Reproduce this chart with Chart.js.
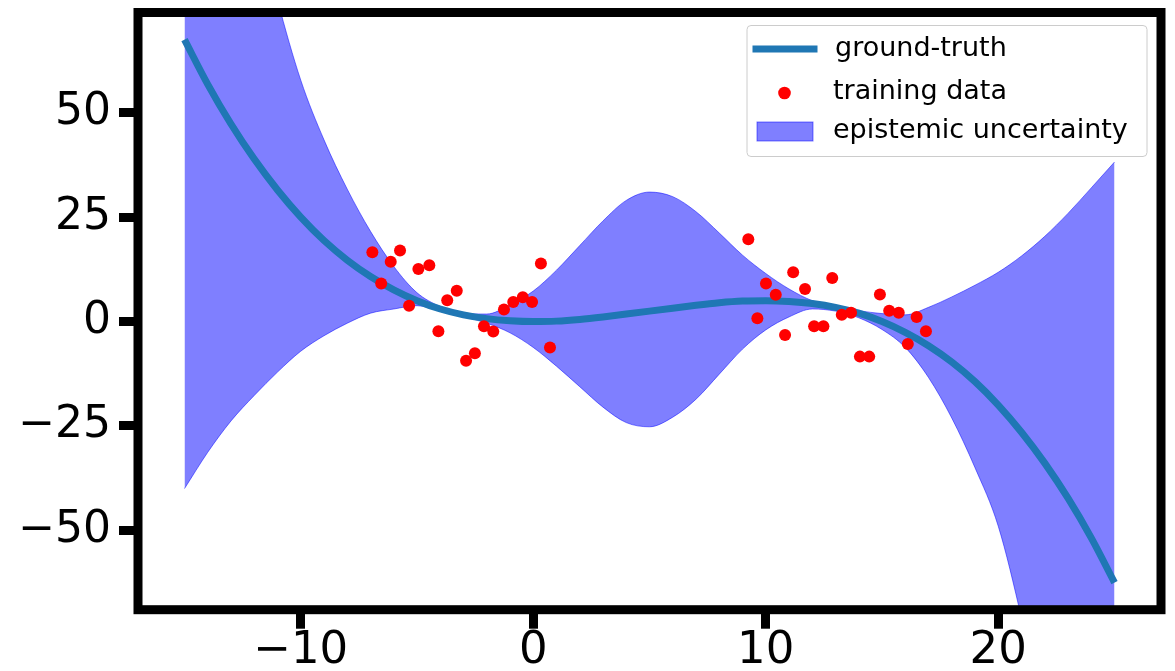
<!DOCTYPE html>
<html lang="en">
<head>
    <meta charset="UTF-8">
    <title>ground-truth / training data / epistemic uncertainty</title>
    <script src="https://cdn.jsdelivr.net/npm/chart.js"></script>
    <style>
        body { margin: 0; background: #fff; }
    </style>
</head>
<body>
    <canvas id="chart" width="1175" height="671"></canvas>
</body>

<script>
// x grid for the curves, every 1 unit
const xGrid = [-15, -14, -13, -12, -11, -10, -9, -8, -7, -6, -5, -4, -3, -2, -1, 0, 1, 2, 3, 4, 5,
               6, 7, 8, 9, 10, 11, 12, 13, 14, 15, 16, 17, 18, 19, 20, 21, 22, 23, 24, 25];

// ground-truth curve
const truthY = [67.5, 56.8, 47.3, 38.9, 31.5, 25.0, 19.4, 14.7, 10.8, 7.6, 5.0, 3.0, 1.6, 0.7, 0.2, 0.0, 0.1, 0.5, 1.1, 1.8, 2.5,
                3.2, 3.9, 4.5, 4.9, 5.0, 4.8, 4.3, 3.4, 2.0, 0.0, -2.6, -5.8, -9.7, -14.4, -20.0, -26.5, -33.9, -42.3, -51.8, -62.5];

// epistemic uncertainty band (upper / lower edge)
const bandUpper = [195, 160, 128, 100, 77, 57.8, 43.5, 31.7, 21.6, 13.2, 6.9, 3.6, 2.0, 1.8, 4.0, 7.3, 12.3, 18.2, 24.1, 29.0, 31.0,
                   29.9, 26.3, 21.2, 15.9, 11.5, 7.8, 5.0, 3.6, 2.6, 1.9, 1.6, 3.4, 5.9, 8.7, 11.8, 15.7, 20.4, 25.9, 32.0, 38.2];
const bandLower = [-40.0, -31.3, -23.8, -17.7, -12.1, -7.1, -3.4, -0.4, 2.0, 3.0, 3.8, 2.5, 1.2, -0.4, -2.7, -6.2, -10.7, -15.6, -20.5, -24.2, -25.2,
                   -22.9, -18.6, -12.6, -6.6, -2.0, 1.1, 3.0, 2.5, 0.9, -1.9, -6.2, -13.4, -23.1, -35.0, -49.0, -71, -97, -127, -160, -197];

// training data
const trainX = [-6.92, -5.73, -6.13, -6.54, -4.94, -4.47, -5.34, -3.29, -3.70, -4.08,
                -2.51, -2.89, -2.12, -1.72, -1.26, -0.86, -0.45, -0.05, 0.33, 0.72,
                9.25, 10.01, 10.43, 9.64, 10.83, 11.18, 11.69, 12.86, 12.08, 12.48,
                13.27, 13.67, 14.91, 14.05, 14.45, 15.31, 15.72, 16.49, 16.89, 16.11];
const trainY = [16.6, 17.0, 14.3, 9.1, 12.6, 13.5, 3.8, 7.4, 5.1, -2.3,
                -7.6, -9.4, -1.1, -2.4, 2.9, 4.7, 5.8, 4.7, 13.9, -6.2,
                19.7, 9.1, 6.4, 0.8, -3.2, 11.8, 7.8, 10.4, -1.1, -1.1,
                1.6, 2.1, 6.5, -8.4, -8.4, 2.6, 2.1, 1.1, -2.3, -5.4];

// axes
const xTicks = [-10, 0, 10, 20];
const yTicks = [-50, -25, 0, 25, 50];
const xRange = [-17, 27];
const yRange = [-69, 74];

const legendLabels = ['ground-truth', 'training data', 'epistemic uncertainty'];

const BLUE = '#1f77b4';
const BAND = 'rgba(0, 0, 255, 0.5)';
const FONT = '"DejaVu Sans", sans-serif';

function toPoints(xs, ys) {
    return xs.map((x, i) => ({x: x, y: ys[i]}));
}

function minus(v) {
    return String(v).replace('-', '\u2212');
}

// thick black box around the plot + matplotlib style legend
const framePlugin = {
    id: 'frame',
    afterDraw(chart) {
        const ctx = chart.ctx;
        const a = chart.chartArea;
        ctx.save();
        ctx.strokeStyle = '#000';
        ctx.lineWidth = 9;
        ctx.lineJoin = 'miter';
        ctx.strokeRect(a.left, a.top, a.right - a.left, a.bottom - a.top);

        // legend box
        ctx.beginPath();
        ctx.roundRect(747, 25.5, 400, 131, 4);
        ctx.fillStyle = 'rgba(255,255,255,0.8)';
        ctx.fill();
        ctx.lineWidth = 1;
        ctx.strokeStyle = '#cccccc';
        ctx.stroke();

        // handles
        ctx.strokeStyle = BLUE;
        ctx.lineWidth = 7;
        ctx.lineCap = 'square';
        ctx.beginPath();
        ctx.moveTo(756, 49);
        ctx.lineTo(814, 49);
        ctx.stroke();

        ctx.fillStyle = 'red';
        ctx.beginPath();
        ctx.arc(784.5, 93, 6.3, 0, Math.PI * 2);
        ctx.fill();

        ctx.fillStyle = BAND;
        ctx.strokeStyle = BAND;
        ctx.lineWidth = 1;
        ctx.lineCap = 'butt';
        ctx.fillRect(757, 122, 56, 19);
        ctx.strokeRect(757, 122, 56, 19);

        // texts
        ctx.fillStyle = '#000';
        ctx.font = '27px ' + FONT;
        ctx.textBaseline = 'alphabetic';
        ctx.textAlign = 'left';
        ctx.fillText(legendLabels[0], 835, 56);
        ctx.fillText(legendLabels[1], 833, 99);
        ctx.fillText(legendLabels[2], 833, 138);
        ctx.restore();
    }
};

const ctx = document.getElementById('chart');
new Chart(ctx, {
    type: 'scatter',
    data: {
        datasets: [
            {
                label: legendLabels[1],
                data: toPoints(trainX, trainY),
                backgroundColor: 'red',
                borderWidth: 0,
                pointRadius: 6,
                order: 1
            },
            {
                type: 'line',
                label: legendLabels[0],
                data: toPoints(xGrid, truthY),
                borderColor: BLUE,
                borderWidth: 7,
                pointRadius: 0,
                fill: false,
                cubicInterpolationMode: 'monotone',
                order: 2
            },
            {
                type: 'line',
                label: legendLabels[2],
                data: toPoints(xGrid, bandUpper),
                borderColor: BAND,
                backgroundColor: BAND,
                borderWidth: 1,
                pointRadius: 0,
                fill: '+1',
                cubicInterpolationMode: 'monotone',
                order: 3
            },
            {
                type: 'line',
                label: 'lower',
                data: toPoints(xGrid, bandLower),
                borderColor: BAND,
                borderWidth: 1,
                pointRadius: 0,
                fill: false,
                cubicInterpolationMode: 'monotone',
                order: 4
            }
        ]
    },
    options: {
        responsive: false,
        animation: false,
        events: [],
        layout: { padding: { left: 0, top: 12.5, right: 14, bottom: 0 } },
        plugins: {
            legend: { display: false },
            tooltip: { enabled: false }
        },
        scales: {
            x: {
                type: 'linear',
                min: xRange[0],
                max: xRange[1],
                afterBuildTicks: (s) => { s.ticks = xTicks.map(v => ({value: v})); },
                afterFit: (s) => { s.height = 61.3; s.paddingLeft = 0; s.paddingRight = 0; },
                grid: { drawOnChartArea: false, drawTicks: true, tickLength: 19, tickWidth: 9, tickColor: '#000' },
                border: { display: false },
                ticks: {
                    color: '#000',
                    padding: 0,
                    maxRotation: 0,
                    font: { family: FONT, size: 45, lineHeight: 1 },
                    callback: (v) => minus(v)
                }
            },
            y: {
                min: yRange[0],
                max: yRange[1],
                afterBuildTicks: (s) => { s.ticks = yTicks.map(v => ({value: v})); },
                afterFit: (s) => { s.width = 138; s.paddingTop = 0; s.paddingBottom = 0; },
                grid: { drawOnChartArea: false, drawTicks: true, tickLength: 19, tickWidth: 9, tickColor: '#000' },
                border: { display: false },
                ticks: {
                    color: '#000',
                    padding: 8,
                    font: { family: FONT, size: 44, lineHeight: 1 },
                    callback: (v) => minus(v)
                }
            }
        }
    },
    plugins: [framePlugin]
});
</script>
</html>
